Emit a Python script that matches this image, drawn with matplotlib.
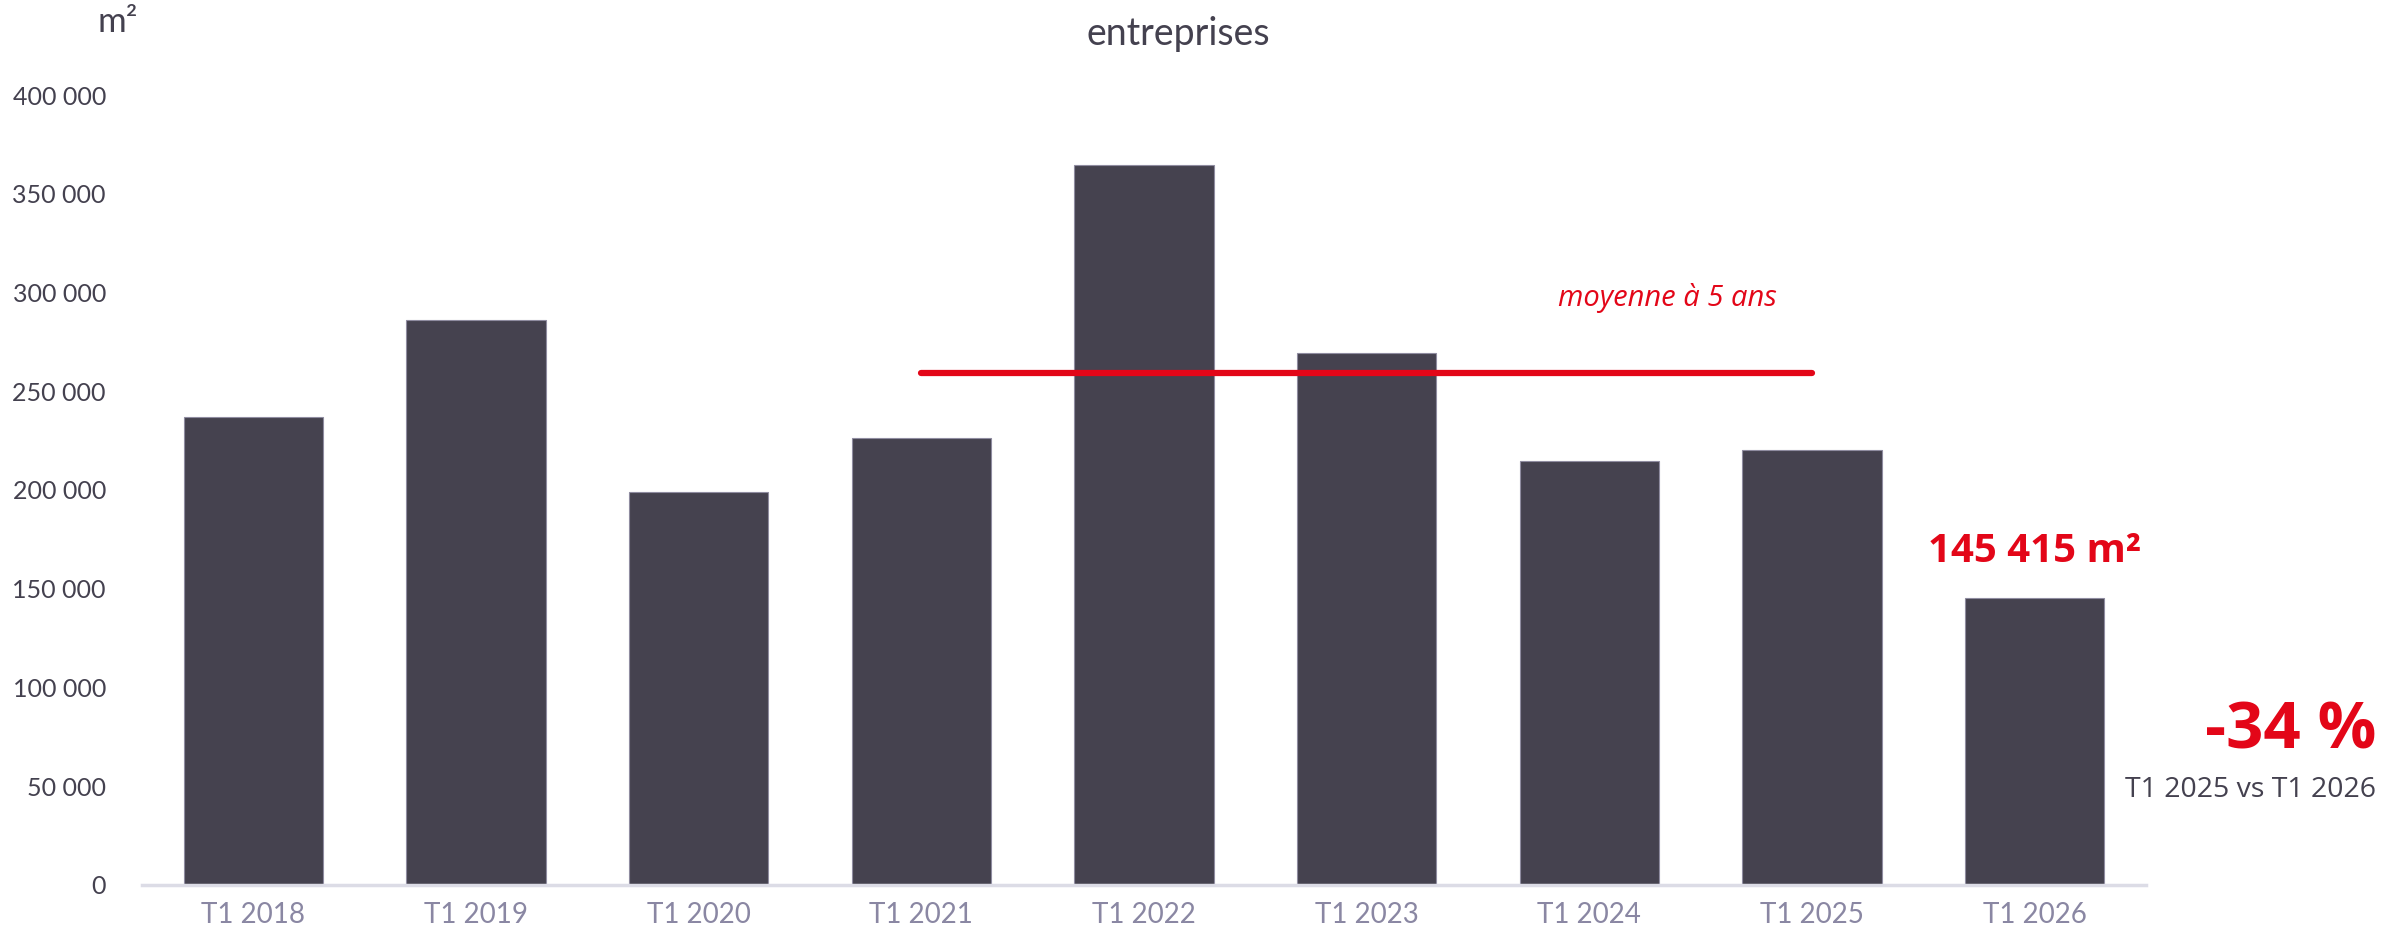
import matplotlib.pyplot as plt
from matplotlib.ticker import FuncFormatter, MultipleLocator

# data
periods = ["T1 2018", "T1 2019", "T1 2020", "T1 2021", "T1 2022",
           "T1 2023", "T1 2024", "T1 2025", "T1 2026"]
surfaces = [237000, 286000, 199000, 226500, 364500, 269500, 214500, 220000, 145415]
avg_5y = 259300
avg_span = ["T1 2021", "T1 2025"]

DARK = "#45424f"
RED = "#e30618"
TICK_X = "#8a87a3"
TEXT = "#44414f"

plt.rcParams["font.family"] = ["Lato", "DejaVu Sans"]

fig = plt.figure(figsize=(24, 9.36), dpi=100)
ax = fig.add_axes([0.0592, 0.0545, 0.8350, 0.844])

x = list(range(len(periods)))
ax.bar(x, surfaces, width=0.625, color=DARK, edgecolor="#8f8ca0", linewidth=0.8, zorder=2)

i0, i1 = periods.index(avg_span[0]), periods.index(avg_span[1])
ax.plot([i0, i1], [avg_5y, avg_5y], color=RED, lw=4.5, solid_capstyle="round", zorder=3)
ax.text(6.35, 297000, "moyenne à 5 ans", color=RED, fontsize=21,
        style="italic", family=["Open Sans", "DejaVu Sans"], ha="center", va="center")

ax.text(len(periods) - 1, 169000, f"{surfaces[-1]:,} m²".replace(",", " "), color=RED,
        fontsize=29, fontweight="bold", family=["Open Sans", "DejaVu Sans"],
        ha="center", va="center")

ax.set_xlim(-0.5, len(periods) - 0.5)
ax.set_ylim(0, 400000)
ax.set_xticks(x)
ax.set_xticklabels(periods)
ax.yaxis.set_major_locator(MultipleLocator(50000))
ax.yaxis.set_major_formatter(FuncFormatter(lambda v, p: f"{int(v):,}".replace(",", " ")))
ax.tick_params(axis="y", length=0, labelsize=18, labelcolor=TEXT, pad=26)
ax.tick_params(axis="x", length=0, labelsize=20, labelcolor=TICK_X, pad=12)

for s in ["top", "right", "left"]:
    ax.spines[s].set_visible(False)
ax.spines["bottom"].set_color("#dcdce6")
ax.spines["bottom"].set_linewidth(2.5)

fig.text(118 / 2400, 1 - 22 / 936, "m²", fontsize=25, color=TEXT, ha="center", va="center")
fig.text(1178 / 2400, 1 - 34 / 936, "entreprises", fontsize=27, color=TEXT,
         ha="center", va="center")
fig.text(2376 / 2400, 1 - 732 / 936, "-34 %", fontsize=47, color=RED, fontweight="bold",
         family=["Open Sans", "DejaVu Sans"], ha="right", va="center")
fig.text(2376 / 2400, 1 - 790 / 936, "T1 2025 vs T1 2026", fontsize=20.5, color=TEXT,
         family=["Open Sans", "DejaVu Sans"], ha="right", va="center")

fig.savefig("out.png", dpi=100)
